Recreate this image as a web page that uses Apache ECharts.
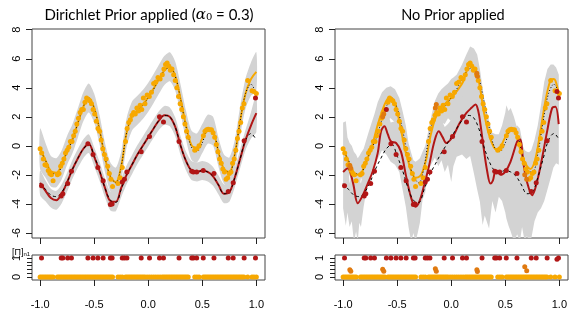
<!DOCTYPE html>
<html><head><meta charset="utf-8">
<script src="https://cdn.jsdelivr.net/npm/echarts@6/dist/echarts.min.js"></script>
<style>html,body{margin:0;padding:0;background:#fff}#c{width:581px;height:310px}</style>
</head><body><div id="c"></div>
<script>
// ---------- data ----------
const xGrid = [-1.00,-0.95,-0.90,-0.85,-0.80,-0.75,-0.70,-0.65,-0.60,-0.55,-0.50,-0.45,-0.40,-0.35,-0.30,-0.25,-0.20,-0.15,-0.10,-0.05,0.00,0.05,0.10,0.15,0.20,0.25,0.30,0.35,0.40,0.45,0.50,0.55,0.60,0.65,0.70,0.75,0.80,0.85,0.90,0.95,1.00];
const trueOrange = [-0.3,-1.0,-1.8,-1.95,-1.4,-0.4,0.4,1.6,2.7,3.3,2.6,1.1,-0.8,-2.1,-2.55,-1.4,0.9,2.0,2.4,2.8,3.3,3.9,4.6,5.2,5.4,4.8,3.2,1.3,-0.1,-0.4,0.2,1.1,1.0,-0.4,-1.6,-1.85,-0.6,1.7,3.6,4.25,3.5];
const trueRed = [-2.6,-3.0,-3.4,-3.5,-3.2,-2.5,-1.6,-0.85,-0.2,0.1,-0.7,-1.7,-2.9,-3.75,-3.9,-3.0,-2.0,-1.3,-0.6,0.0,0.6,1.2,1.75,2.1,2.0,1.3,0.0,-1.05,-1.7,-1.8,-1.7,-1.8,-2.1,-2.7,-3.3,-3.2,-2.2,-0.9,0.4,0.85,0.4];
const orangeFitL = [-0.2,-1.0,-1.75,-1.85,-1.3,-0.3,0.5,1.6,2.7,3.3,2.6,1.1,-0.8,-2.15,-2.5,-1.4,0.9,2.05,2.45,2.85,3.35,3.95,4.6,5.2,5.45,4.8,3.2,1.4,0.05,-0.15,0.5,1.15,1.0,-0.45,-1.6,-1.8,-0.6,1.7,3.6,4.6,5.1];
const redFitL = [-2.55,-3.1,-3.6,-3.75,-3.3,-2.5,-1.6,-0.85,-0.2,0.15,-0.75,-1.75,-2.9,-3.8,-3.85,-2.9,-2.0,-1.3,-0.6,0.0,0.6,1.2,1.75,2.1,2.0,1.3,0.0,-1.05,-1.7,-1.8,-1.7,-1.8,-2.1,-2.7,-3.3,-3.2,-2.2,-0.9,0.4,1.4,2.25];
const orangeLoL = [-1.6,-2.2,-2.8,-2.85,-2.3,-1.3,-0.5,0.6,1.7,2.3,1.6,0.1,-1.8,-3.15,-3.5,-2.4,-0.1,1.05,1.45,1.85,2.35,2.95,3.6,4.2,4.45,3.8,2.2,0.4,-0.95,-1.15,-0.5,0.15,0.0,-1.45,-2.6,-2.8,-1.6,0.7,2.55,3.45,3.75];
const orangeHiL = [1.2,0.2,-0.7,-0.85,-0.3,0.7,1.5,2.6,3.7,4.3,3.6,2.1,0.2,-1.15,-1.5,-0.4,1.9,3.05,3.45,3.85,4.35,4.95,5.6,6.2,6.45,5.8,4.2,2.4,1.05,0.85,1.5,2.15,2.0,0.55,-0.6,-0.8,0.4,2.7,4.65,5.75,6.45];
const redLoL = [-3.4,-3.82,-4.25,-4.4,-3.95,-3.15,-2.25,-1.5,-0.85,-0.5,-1.4,-2.4,-3.55,-4.45,-4.5,-3.55,-2.65,-1.95,-1.25,-0.65,-0.05,0.55,1.1,1.45,1.35,0.65,-0.65,-1.7,-2.35,-2.45,-2.35,-2.45,-2.75,-3.35,-3.95,-3.85,-2.85,-1.55,-0.3,0.5,0.95];
const redHiL = [-1.7,-2.38,-2.95,-3.1,-2.65,-1.85,-0.95,-0.2,0.45,0.8,-0.1,-1.1,-2.25,-3.15,-3.2,-2.25,-1.35,-0.65,0.05,0.65,1.25,1.85,2.4,2.75,2.65,1.95,0.65,-0.4,-1.05,-1.15,-1.05,-1.15,-1.45,-2.05,-2.65,-2.55,-1.55,-0.25,1.1,2.3,3.55];

// right panel fits [x, y]
const orangeFitR = [[-1.0,-0.15],[-0.95,-1.1],[-0.9,-1.85],[-0.87,-2.0],[-0.834,-1.9],[-0.79,-1.15],[-0.75,-0.4],[-0.726,0.15],[-0.68,1.45],[-0.634,2.5],[-0.6,3.1],[-0.572,3.35],[-0.526,3.0],[-0.48,1.7],[-0.433,-0.1],[-0.4,-1.0],[-0.37,-1.75],[-0.33,-2.2],[-0.29,-2.1],[-0.264,-1.75],[-0.23,-0.9],[-0.2,0.4],[-0.156,1.7],[-0.11,2.45],[-0.05,2.95],[0.012,3.4],[0.06,3.85],[0.108,4.4],[0.15,5.3],[0.175,5.65],[0.2,5.5],[0.24,4.9],[0.271,3.8],[0.3,2.4],[0.348,0.8],[0.394,-0.1],[0.42,-0.25],[0.45,-0.15],[0.5,0.6],[0.535,1.05],[0.563,1.2],[0.59,1.0],[0.61,0.55],[0.656,-0.7],[0.7,-1.4],[0.732,-1.6],[0.778,-0.9],[0.825,1.0],[0.87,3.05],[0.917,4.5],[0.945,4.6],[0.963,4.5],[0.995,3.6]];
const redFitR = [[-1.0,-1.8],[-0.957,-1.55],[-0.91,-2.5],[-0.864,-3.95],[-0.818,-3.4],[-0.772,-2.6],[-0.726,-1.75],[-0.68,-0.5],[-0.649,1.0],[-0.618,1.35],[-0.587,0.8],[-0.557,0.3],[-0.51,0.2],[-0.465,-0.4],[-0.42,-2.0],[-0.37,-3.6],[-0.33,-4.2],[-0.295,-3.85],[-0.25,-2.7],[-0.203,-1.3],[-0.156,0.3],[-0.115,1.0],[-0.08,0.6],[-0.046,0.2],[0.015,0.64],[0.077,1.56],[0.139,2.25],[0.185,2.6],[0.225,2.85],[0.25,2.4],[0.271,1.45],[0.3,-0.16],[0.333,-1.77],[0.363,-2.6],[0.385,-2.4],[0.409,-1.8],[0.435,-1.85],[0.455,-2.0],[0.5,-1.77],[0.548,-1.1],[0.61,0.3],[0.635,0.45],[0.67,-1.3],[0.70,-2.46],[0.748,-3.4],[0.794,-2.46],[0.84,-0.85],[0.887,1.0],[0.933,2.6],[0.963,2.7],[0.994,1.5]];
// right panel bands
const bandXR =      [-1.0,-0.975,-0.96,-0.94,-0.92,-0.9,-0.88,-0.865,-0.85,-0.835,-0.81,-0.79,-0.77,-0.74,-0.71,-0.68,-0.64,-0.6,-0.56,-0.52,-0.48,-0.45,-0.42,-0.395,-0.37,-0.35,-0.33,-0.31,-0.29,-0.265,-0.24,-0.21,-0.18,-0.15,-0.12,-0.09,-0.06,-0.03,0.0,0.02,0.05,0.1,0.14,0.175,0.21,0.24,0.265,0.29,0.31,0.35,0.38,0.41,0.44,0.47,0.5,0.51,0.53,0.55,0.58,0.61,0.635,0.655,0.68,0.7,0.72,0.74,0.77,0.8,0.83,0.86,0.89,0.92,0.945,0.97,0.995];
const orangeHiR =   [1.6,1.7,0.6,0.2,0.0,-0.4,-0.6,-0.85,-0.7,-0.5,-0.2,0.3,0.8,1.5,2.2,3.0,3.7,4.0,4.1,3.9,3.3,2.4,1.4,0.2,-0.5,-1.0,-1.1,-1.0,-0.85,-0.4,0.0,1.1,2.2,3.1,3.6,3.9,4.1,4.3,4.6,4.7,4.9,5.6,6.3,6.85,6.7,6.3,5.3,4.0,3.0,1.7,0.9,0.8,0.8,1.4,2.3,2.8,2.4,2.6,2.0,1.2,0.6,0.1,-0.3,-0.4,-0.45,-0.3,0.4,1.4,2.8,4.4,5.3,5.6,5.6,5.4,4.9];
const orangeLoR =   [-1.5,-1.9,-2.3,-2.0,-2.8,-3.0,-3.2,-3.2,-3.0,-2.2,-2.5,-2.3,-1.6,-1.2,-0.4,0.2,1.0,1.8,1.9,1.6,0.5,-0.6,-1.8,-3.2,-3.6,-3.6,-3.4,-3.5,-3.2,-2.9,-2.4,-1.5,-0.4,0.5,1.2,1.6,1.5,1.9,1.7,2.1,2.4,2.7,3.3,3.5,3.6,3.3,2.4,1.0,0.0,-1.3,-1.6,-1.9,-1.8,-1.2,-0.7,-0.5,-0.3,-0.2,-0.3,-0.8,-1.5,-2.1,-2.7,-3.0,-3.0,-3.0,-2.4,-1.3,0.0,1.5,2.6,3.2,3.2,2.8,2.2];
const redHiR =      [-0.6,-0.4,-0.8,-2.6,-1.9,-1.8,-2.2,-2.5,-2.4,-2.6,-1.6,-1.2,-0.9,-0.4,0.3,1.2,2.2,2.6,1.6,1.7,1.5,0.8,-0.3,-1.6,-2.6,-3.0,-2.9,-2.7,-2.3,-1.8,-1.0,-0.2,0.9,1.8,2.2,1.8,1.3,1.5,1.8,2.4,2.9,3.4,3.8,4.2,4.3,4.1,3.2,1.9,0.6,-0.8,-1.0,-0.7,-0.8,-0.9,-0.6,-0.4,0.2,0.7,1.2,1.4,1.2,0.4,-0.9,-1.6,-2.1,-2.3,-1.8,-1.0,0.3,1.6,2.7,3.5,3.9,3.8,3.0];
const redLoR =      [-4.3,-5.5,-4.6,-5.6,-5.2,-6.6,-5.9,-6.6,-5.3,-5.6,-4.2,-3.3,-2.6,-1.8,-1.2,-0.9,-0.3,-0.6,-1.1,-1.3,-1.8,-3.0,-4.2,-5.6,-6.6,-6.0,-6.6,-6.0,-5.3,-3.7,-3.2,-1.65,-1.2,-0.8,-1.4,-1.0,-1.8,-1.3,-2.5,-1.4,-0.75,-0.6,-0.9,-0.7,-1.9,-3.0,-3.85,-5.45,-4.8,-5.7,-3.8,-4.6,-3.5,-3.8,-4.6,-5.0,-5.5,-5.9,-6.6,-6.1,-6.6,-5.6,-6.6,-6.2,-6.6,-6.4,-5.2,-4.6,-4.3,-3.8,-3.0,-2.2,-1.5,-1.2,-1.3];

// observed points [x, y]
const orangePts = [[-1.0,-0.2],[-0.985,-0.5],[-0.97,-0.9],[-0.955,-1.3],[-0.94,-1.35],[-0.925,-1.7],[-0.91,-1.9],[-0.895,-2.0],[-0.88,-2.4],
[-0.84,-2.0],[-0.825,-1.9],[-0.81,-1.4],[-0.795,-1.2],[-0.78,-0.9],[-0.765,-0.5],[-0.75,-0.3],[-0.735,-0.1],[-0.72,0.3],[-0.705,0.3],[-0.69,0.7],[-0.675,1.0],[-0.66,1.5],[-0.645,1.9],[-0.63,2.3],[-0.615,2.5],[-0.585,3.0],[-0.57,3.3],[-0.555,3.2],[-0.54,3.1],[-0.525,2.9],[-0.51,2.5],[-0.495,2.2],[-0.48,1.7],[-0.465,1.2],[-0.45,1.0],[-0.435,0.4],[-0.42,-0.2],[-0.405,-0.6],[-0.39,-0.9],[-0.375,-1.4],[-0.36,-1.9],[-0.345,-2.3],[-0.33,-2.8],
[-0.28,-2.6],[-0.26,-2.2],[-0.24,-1.5],
[-0.21,0.3],[-0.195,1.2],[-0.18,1.6],[-0.165,1.8],[-0.15,2.1],[-0.135,2.3],[-0.12,2.2],[-0.105,2.6],[-0.09,2.4],[-0.075,2.8],[-0.06,2.5],[-0.045,3.3],[-0.03,2.9],[-0.01,3.5],[0.01,3.4],[0.03,3.7],[0.05,4.3],[0.07,4.4],[0.09,4.7],[0.11,4.6],[0.13,4.9],[0.145,5.3],[0.16,5.6],[0.175,5.7],[0.19,5.5],[0.205,5.2],[0.22,5.3],[0.235,4.9],[0.25,4.5],[0.265,4.0],[0.28,3.4],[0.295,2.9],[0.31,2.5],[0.325,2.0],[0.34,1.5],[0.355,1.0],[0.37,0.6],
[0.43,-0.3],[0.45,-0.2],[0.47,0.0],
[0.51,0.7],[0.525,1.0],[0.54,1.1],[0.555,1.15],[0.57,1.1],[0.585,1.1],[0.60,0.9],[0.615,0.6],[0.63,0.1],[0.645,-0.4],[0.66,-0.9],[0.675,-1.2],[0.69,-1.6],[0.705,-1.8],[0.72,-2.3],[0.735,-2.2],[0.75,-1.9],[0.765,-1.8],[0.78,-1.2],[0.795,-0.9],[0.81,-0.3],[0.825,0.5],[0.84,1.0],[0.855,1.6],[0.87,2.6],[0.885,2.9],[0.92,4.5],[0.96,3.8],[1.0,3.6]];
const redPts = [[-0.987,-2.75],[-0.805,-3.45],[-0.79,-3.3],[-0.745,-2.6],[-0.71,-1.75],[-0.558,0.15],[-0.51,-0.6],[-0.466,-1.5],[-0.417,-2.4],[-0.35,-4.05],[-0.334,-4.0],[-0.24,-2.5],[-0.22,-2.3],[-0.197,-1.8],[-0.065,-0.4],[0.012,0.64],[0.104,2.0],[0.141,1.65],[0.285,0.3],[0.402,-1.75],[0.417,-1.8],[0.448,-1.8],[0.509,-1.7],[0.608,-1.9],[0.74,-3.15],[0.786,-2.55],[0.887,0.35],[0.992,3.3]];
// points the Dirichlet model calls orange but the no-prior model calls red: [x, y, membership]
const switchedPts = [[-0.6,2.5,1.0],[0.978,3.75,0.94]];
// points with intermediate membership in the no-prior model: [x, y, membership]
const midPtsR = [[-0.938,-1.35,0.38],[-0.929,-1.55,0.30],[-0.634,2.0,0.41],[-0.624,2.2,0.30],[-0.147,2.6,0.44],[-0.138,2.85,0.30],[0.237,5.0,0.38],[0.242,4.8,0.29],[0.68,-2.0,0.54],[0.698,-2.3,0.33]];

const xTicks = [-1.0,-0.5,0.0,0.5,1.0];
const yTicks = [-6,-4,-2,0,2,4,6,8];
const stripTicks = [0,0.2,0.4,0.6,0.8,1];
const stripLabels = [0,1];

// ---------- styles ----------
const ORANGE = '#F7A800', RED = '#B11616', MID = '#E07A10', BAND = '#D3D3D3', INK = '#222';
const FONT = 'Liberation Sans';

const chart = echarts.init(document.getElementById('c'), null, {renderer:'canvas'});

function gridDef(left, top, h){ return {left, top, width:233, height:h, show:true, borderColor:'#444', borderWidth:1, backgroundColor:'rgba(0,0,0,0)', containLabel:false}; }
const grids = [gridDef(32,29,209), gridDef(32,255,30), gridDef(335,29,209), gridDef(335,255,30)];

function xAx(g, labels){
  return {gridIndex:g, type:'value', position:'bottom', min:-1.075, max:1.08, axisLine:{show:false, onZero:false},
    splitLine:{show:false},
    axisTick:{show:true, length:6, customValues:xTicks, lineStyle:{color:INK}},
    axisLabel:{show:labels, customValues:xTicks, formatter:v=>v.toFixed(1), color:'#000', fontSize:11, fontFamily:FONT, margin:19}};
}
function yMain(g){
  return {gridIndex:g, type:'value', position:'left', min:-6.35, max:8.05, axisLine:{show:false, onZero:false}, splitLine:{show:false},
    axisTick:{show:true, length:6, customValues:yTicks, lineStyle:{color:INK}},
    axisLabel:{customValues:yTicks, rotate:90, color:'#000', fontSize:11, fontFamily:FONT, margin:10}};
}
function yStrip(g){
  return {gridIndex:g, type:'value', position:'left', min:-0.16, max:1.16, axisLine:{show:false, onZero:false}, splitLine:{show:false},
    axisTick:{show:true, length:5, customValues:stripTicks, lineStyle:{color:INK}},
    axisLabel:{customValues:stripLabels, rotate:90, color:'#000', fontSize:11, fontFamily:FONT, margin:10}};
}

function band(ax, xs, lo, hi, smooth){
  return {type:'custom', xAxisIndex:ax, yAxisIndex:ax, clip:true, silent:true, z:1, data:[[0,0]],
    renderItem:function(params, api){
      const pts = [];
      for (let i=0;i<xs.length;i++) pts.push(api.coord([xs[i], hi[i]]));
      for (let i=xs.length-1;i>=0;i--) pts.push(api.coord([xs[i], lo[i]]));
      return {type:'polygon', shape:{points:pts, smooth:smooth}, style:{fill:BAND, stroke:null}};
    }};
}
function line(ax, data, color, width, type, z){
  return {type:'line', xAxisIndex:ax, yAxisIndex:ax, data, showSymbol:false, smooth:0.35, clip:true,
    lineStyle:{color, width, type}, z, silent:true, animation:false};
}
function pts(ax, data, color, size){
  return {type:'scatter', xAxisIndex:ax, yAxisIndex:ax, data, symbol:'circle', symbolSize:size||5,
    itemStyle:{color, opacity:1}, z:5, silent:true};
}
const onGrid = arr => xGrid.map((x,i)=>[x, arr[i]]);

const series = [
  // left main
  band(0, xGrid, orangeLoL, orangeHiL, 0.25),
  band(0, xGrid, redLoL, redHiL, 0.25),
  line(0, onGrid(orangeFitL), ORANGE, 2, 'solid', 2),
  line(0, onGrid(redFitL), RED, 2, 'solid', 2),
  line(0, onGrid(trueOrange), '#000', 1, [1,2], 3),
  line(0, onGrid(trueRed), '#000', 1, [3,3], 3),
  pts(0, orangePts.concat(switchedPts.map(p=>[p[0],p[1]])), ORANGE),
  pts(0, redPts, RED),
  // left strip
  pts(1, orangePts.concat(switchedPts).map(p=>[p[0],0]), ORANGE),
  pts(1, redPts.map(p=>[p[0],1]), RED),
  // right main
  band(2, bandXR, orangeLoR, orangeHiR, 0),
  band(2, bandXR, redLoR, redHiR, 0),
  line(2, orangeFitR, ORANGE, 2, 'solid', 2),
  line(2, redFitR, RED, 2, 'solid', 2),
  line(2, onGrid(trueOrange), '#000', 1, [1,2], 3),
  line(2, onGrid(trueRed), '#000', 1, [3,3], 3),
  pts(2, orangePts, ORANGE),
  pts(2, redPts.concat(switchedPts.map(p=>[p[0],p[1]])), RED),
  pts(2, midPtsR.map(p=>[p[0],p[1]]), MID),
  // right strip
  pts(3, orangePts.map(p=>[p[0],0]), ORANGE),
  pts(3, midPtsR.map(p=>[p[0],p[2]]), MID),
  pts(3, redPts.map(p=>[p[0],1]).concat(switchedPts.map(p=>[p[0],p[2]])), RED)
];

chart.setOption({
  animation:false,
  backgroundColor:'#fff',
  grid:grids,
  xAxis:[xAx(0,false), xAx(1,true), xAx(2,false), xAx(3,true)],
  yAxis:[yMain(0), yStrip(1), yMain(2), yStrip(3)],
  series,
  graphic:[
    {type:'text', x:149, y:15, silent:true, style:{text:'Dirichlet Prior applied ({a|α}{s|0} = 0.3)', align:'center', verticalAlign:'middle', fill:'#000', fontSize:15, fontFamily:'Lato',
      rich:{a:{fontSize:15, fontStyle:'italic', fontFamily:'DejaVu Serif', fill:'#000'}, s:{fontSize:10, fontFamily:'DejaVu Serif', verticalAlign:'bottom', fill:'#000'}}}},
    {type:'text', x:453, y:15, silent:true, style:{text:'No Prior applied', align:'center', verticalAlign:'middle', fill:'#000', fontSize:14.5, fontFamily:'Lato'}},
    {type:'text', x:12, y:253, silent:true, style:{text:'[Π]{s|n1}', align:'left', verticalAlign:'middle', fill:'#000', fontSize:9, fontFamily:FONT,
      rich:{s:{fontSize:6, fontFamily:FONT, verticalAlign:'bottom', fill:'#000'}}}}
  ]
});
</script></body></html>
